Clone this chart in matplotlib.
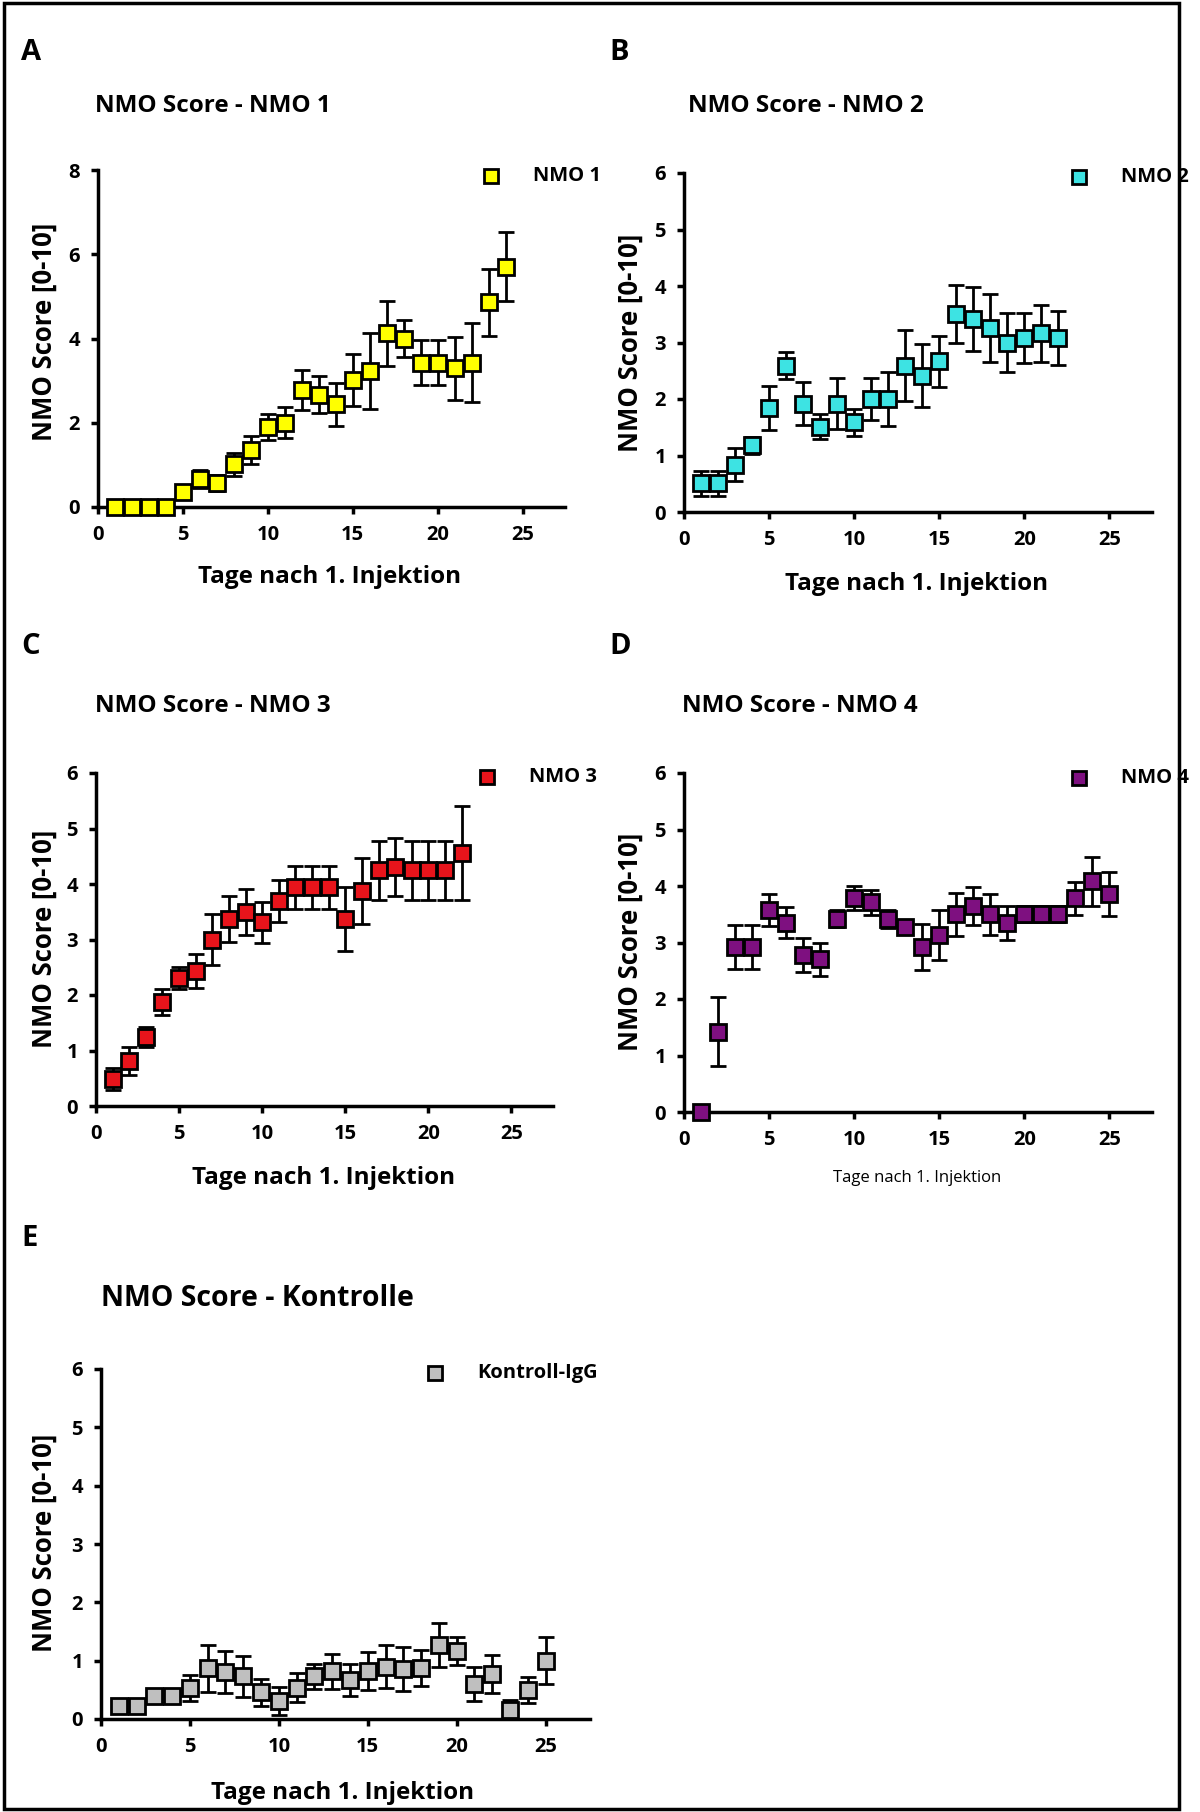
import matplotlib
matplotlib.use("Agg")
import matplotlib.pyplot as plt
from matplotlib.patches import Rectangle

plt.rcParams['font.family'] = ['Open Sans', 'DejaVu Sans']
plt.rcParams['font.weight'] = 'bold'

# days after first injection
days_nmo1 = list(range(1, 25))
days_nmo2 = list(range(1, 23))
days_nmo3 = list(range(1, 23))
days_nmo4 = list(range(1, 26))
days_ctrl = list(range(1, 26))

# NMO 1
nmo1 = [0, 0, 0, 0, 0.36, 0.67, 0.57, 1.01, 1.35, 1.90, 2.00, 2.78, 2.67, 2.44,
        3.01, 3.22, 4.12, 4.00, 3.43, 3.43, 3.29, 3.43, 4.86, 5.70]
nmo1_err = [0, 0, 0, 0, 0.10, 0.22, 0.20, 0.27, 0.33, 0.30, 0.37, 0.47, 0.45, 0.51,
            0.62, 0.90, 0.78, 0.44, 0.53, 0.53, 0.74, 0.93, 0.80, 0.82]

# NMO 2
nmo2 = [0.51, 0.51, 0.84, 1.18, 1.84, 2.59, 1.92, 1.51, 1.92, 1.59, 2.00, 2.00,
        2.59, 2.41, 2.67, 3.51, 3.42, 3.25, 3.00, 3.08, 3.16, 3.08]
nmo2_err = [0.22, 0.22, 0.30, 0.15, 0.39, 0.24, 0.38, 0.22, 0.45, 0.24, 0.37, 0.48,
            0.63, 0.56, 0.45, 0.51, 0.57, 0.60, 0.53, 0.44, 0.50, 0.47]

# NMO 3
nmo3 = [0.49, 0.81, 1.25, 1.87, 2.30, 2.43, 3.00, 3.37, 3.50, 3.31, 3.69, 3.94,
        3.94, 3.94, 3.37, 3.87, 4.25, 4.31, 4.25, 4.25, 4.25, 4.56]
nmo3_err = [0.20, 0.26, 0.18, 0.23, 0.20, 0.30, 0.46, 0.41, 0.41, 0.37, 0.38, 0.39,
            0.39, 0.39, 0.57, 0.59, 0.53, 0.52, 0.53, 0.53, 0.53, 0.84]

# NMO 4
nmo4 = [0, 1.42, 2.92, 2.92, 3.57, 3.35, 2.78, 2.70, 3.42, 3.79, 3.71, 3.42, 3.28,
        2.92, 3.13, 3.50, 3.65, 3.50, 3.35, 3.50, 3.50, 3.50, 3.78, 4.08, 3.86]
nmo4_err = [0, 0.61, 0.39, 0.39, 0.28, 0.27, 0.30, 0.29, 0.15, 0.21, 0.22, 0.16, 0.11,
            0.40, 0.44, 0.38, 0.34, 0.36, 0.30, 0.14, 0.14, 0.14, 0.29, 0.43, 0.39]

# Kontroll-IgG
ctrl = [0.23, 0.23, 0.39, 0.39, 0.53, 0.87, 0.80, 0.73, 0.46, 0.31, 0.54, 0.73, 0.82,
        0.67, 0.82, 0.90, 0.86, 0.88, 1.27, 1.16, 0.60, 0.77, 0.16, 0.50, 1.00]
ctrl_err = [0.05, 0.05, 0.07, 0.07, 0.22, 0.40, 0.36, 0.35, 0.23, 0.24, 0.25, 0.22, 0.30,
            0.28, 0.33, 0.37, 0.38, 0.31, 0.37, 0.24, 0.29, 0.33, 0.16, 0.22, 0.40]

W, H = 1200, 1812
fig = plt.figure(figsize=(12, 18.12), dpi=100)


def px_rect(xl, xr, ytop, ybot):
    return [xl / W, 1 - ybot / H, (xr - xl) / W, (ybot - ytop) / H]


def fx(x):
    return x / W


def fy(y):
    return 1 - y / H


panels = [
    # letter, title, x, y, err, color, label, ymax, rect, legend pos, title pos, letter pos, xlabel pos, ylabel pos
    ("A", "NMO Score - NMO 1", days_nmo1, nmo1, nmo1_err, "#FFFF00", "NMO 1", 8,
     px_rect(98, 565, 170, 507), (491, 176), (95, 106, 17.5), (21, 53), (330, 577, 17.5, "bold"), (44, 332)),
    ("B", "NMO Score - NMO 2", days_nmo2, nmo2, nmo2_err, "#3DE3E3", "NMO 2", 6,
     px_rect(684, 1152, 173, 512), (1079, 177), (688, 106, 17.5), (609, 53), (917, 584, 17.5, "bold"), (630, 343)),
    ("C", "NMO Score - NMO 3", days_nmo3, nmo3, nmo3_err, "#E8141B", "NMO 3", 6,
     px_rect(96, 553, 773, 1106), (487, 777), (95, 706, 17.5), (21, 647), (324, 1178, 17.5, "bold"), (44, 939)),
    ("D", "NMO Score - NMO 4", days_nmo4, nmo4, nmo4_err, "#7E1080", "NMO 4", 6,
     px_rect(684, 1152, 773, 1112), (1079, 778), (682, 706, 17.5), (609, 647), (917, 1178, 12, "normal"), (630, 942)),
    ("E", "NMO Score - Kontrolle", days_ctrl, ctrl, ctrl_err, "#BFBFBF", "Kontroll-IgG", 6,
     px_rect(101, 590, 1369, 1719), (435, 1373), (101, 1299, 20.5), (21, 1239), (343, 1793, 17.5, "bold"), (44, 1543)),
]

for (letter, title, x, y, err, color, label, ymax, rect, leg, tpos, lpos, xlab, ylab) in panels:
    ax = fig.add_axes(rect)
    ax.errorbar(x, y, yerr=err, fmt='s', color='black', ecolor='black', elinewidth=2,
                capsize=6, capthick=2, markersize=11, markerfacecolor=color,
                markeredgecolor='black', markeredgewidth=2, clip_on=False, zorder=3)
    ax.set_xlim(0, 27.5)
    ax.set_ylim(0, ymax)
    ax.set_xticks([0, 5, 10, 15, 20, 25])
    ax.set_yticks(range(0, ymax + 1, 2 if ymax == 8 else 1))
    for s in ['top', 'right']:
        ax.spines[s].set_visible(False)
    for s in ['left', 'bottom']:
        ax.spines[s].set_linewidth(2.5)
    ax.tick_params(direction='out', length=5, width=2.5, labelsize=14.5, pad=8)

    # legend
    fig.add_artist(plt.Line2D([fx(leg[0])], [fy(leg[1])], marker='s', markersize=10,
                              markerfacecolor=color, markeredgecolor='black',
                              markeredgewidth=2, linestyle='none'))
    fig.text(fx(leg[0] + 42), fy(leg[1]), label, fontsize=14.5, fontweight='bold',
             ha='left', va='center')

    fig.text(fx(tpos[0]), fy(tpos[1]), title, fontsize=tpos[2], fontweight='bold',
             ha='left', va='center')
    fig.text(fx(lpos[0]), fy(lpos[1]), letter, fontsize=21, fontweight='bold',
             ha='left', va='center')
    fig.text(fx(xlab[0]), fy(xlab[1]), "Tage nach 1. Injektion", fontsize=xlab[2],
             fontweight=xlab[3], ha='center', va='center')
    fig.text(fx(ylab[0]), fy(ylab[1]), "NMO Score [0-10]", fontsize=18.5,
             fontweight='bold', ha='center', va='center', rotation=90)

# outer frame
fig.add_artist(Rectangle((fx(4), fy(1809)), fx(1179 - 4), (1809 - 3) / H, fill=False,
                         edgecolor='black', linewidth=2.5, zorder=10,
                         transform=fig.transFigure))

fig.savefig("out.png", dpi=100, facecolor='white')
